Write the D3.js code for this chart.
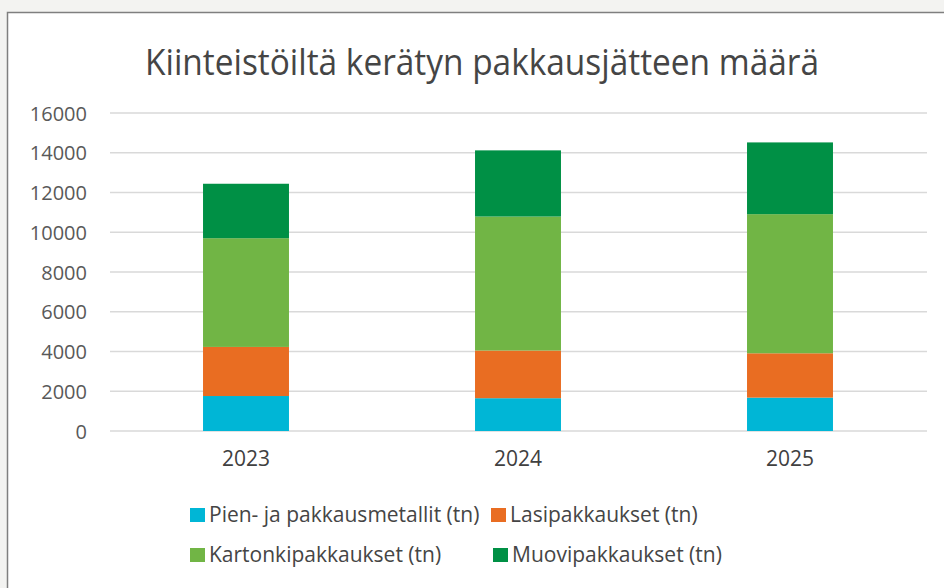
<!DOCTYPE html>
<html>
<head>
<meta charset="utf-8">
<script src="https://cdn.jsdelivr.net/npm/d3@7"></script>
<style>
  html, body { margin: 0; padding: 0; background: #f3f3f1; }
  svg { display: block; }
</style>
</head>
<body>
<svg id="chart" width="944" height="588"></svg>
<script>
// data (tonnes)
var years = ["2023", "2024", "2025"];
var seriesNames = ["Pien- ja pakkausmetallit (tn)", "Lasipakkaukset (tn)", "Kartonkipakkaukset (tn)", "Muovipakkaukset (tn)"];
var metalli = [1760, 1650, 1680];
var lasi = [2470, 2400, 2230];
var kartonki = [5470, 6740, 7000];
var muovi = [2740, 3330, 3610];
var yTicks = [0, 2000, 4000, 6000, 8000, 10000, 12000, 14000, 16000];
var colours = ["#00b6d6", "#e96d22", "#71b545", "#009045"];

var chartTitle = "Kiinteistöiltä kerätyn pakkausjätteen määrä";

var svg = d3.select("#chart");

// white chart area with grey frame on left / top
svg.append("rect").attr("x", 8).attr("y", 13).attr("width", 950).attr("height", 600).attr("fill", "#ffffff");
svg.append("path").attr("d", "M7.5,600 V12.5 H944").attr("fill", "none").attr("stroke", "#7f7f7f").attr("stroke-width", 1.5);

// title
svg.append("text")
    .attr("x", 482).attr("y", 75)
    .attr("text-anchor", "middle")
    .attr("font-family", "'Open Sans', sans-serif")
    .attr("font-size", 37)
    .attr("fill", "#454545")
    .attr("textLength", 674).attr("lengthAdjust", "spacingAndGlyphs")
    .text(chartTitle);

var rows = years.map(function (y, i) {
    return { year: y, s0: metalli[i], s1: lasi[i], s2: kartonki[i], s3: muovi[i] };
});
var stack = d3.stack().keys(["s0", "s1", "s2", "s3"]);
var stacked = stack(rows);

var xscale = d3.scaleBand().domain(years).range([110, 926]).paddingInner(0.684).paddingOuter(0.342);
var yscale = d3.scaleLinear().domain([0, 16000]).range([431, 113]);

// gridlines
svg.append("g").selectAll("line").data(yTicks).enter().append("line")
    .attr("x1", 110).attr("x2", 927)
    .attr("y1", function (d) { return yscale(d); })
    .attr("y2", function (d) { return yscale(d); })
    .attr("stroke", "#d9d9d9").attr("stroke-width", 1.5);

// y axis labels
var yaxis = d3.axisLeft(yscale).tickValues(yTicks).tickSize(0).tickPadding(0).tickFormat(d3.format("d"));
var gy = svg.append("g").attr("transform", "translate(87,0)").call(yaxis);
gy.select(".domain").remove();
gy.selectAll("text").attr("font-family", "'Open Sans', sans-serif").attr("font-size", 20).attr("fill", "#595959").attr("dy", "0.35em");

// bars
svg.append("g").selectAll("g").data(stacked).enter().append("g")
    .attr("fill", function (d, i) { return colours[i]; })
    .selectAll("rect").data(function (d) { return d; }).enter().append("rect")
    .attr("x", function (d) { return xscale(d.data.year); })
    .attr("width", xscale.bandwidth())
    .attr("y", function (d) { return yscale(d[1]); })
    .attr("height", function (d) { return yscale(d[0]) - yscale(d[1]); });

// x axis labels
var xaxis = d3.axisBottom(xscale).tickSize(0).tickPadding(0);
var gx = svg.append("g").attr("transform", "translate(0,451)").call(xaxis);
gx.select(".domain").remove();
gx.selectAll("text").attr("font-family", "'Open Sans', sans-serif").attr("font-size", 21).attr("fill", "#404040").attr("dy", "0.71em");

// legend
var legendPos = [[190, 515], [491, 515], [190, 555], [493, 555]];
var legend = svg.append("g").selectAll("g").data(seriesNames).enter().append("g")
    .attr("transform", function (d, i) { return "translate(" + legendPos[i][0] + "," + legendPos[i][1] + ")"; });
legend.append("rect").attr("x", 0).attr("y", -7).attr("width", 15).attr("height", 14)
    .attr("fill", function (d, i) { return colours[i]; });
legend.append("text").attr("x", 19).attr("dy", "0.35em")
    .attr("font-family", "'Open Sans', sans-serif").attr("font-size", 21).attr("fill", "#454545")
    .text(function (d) { return d; });
</script>
</body>
</html>
